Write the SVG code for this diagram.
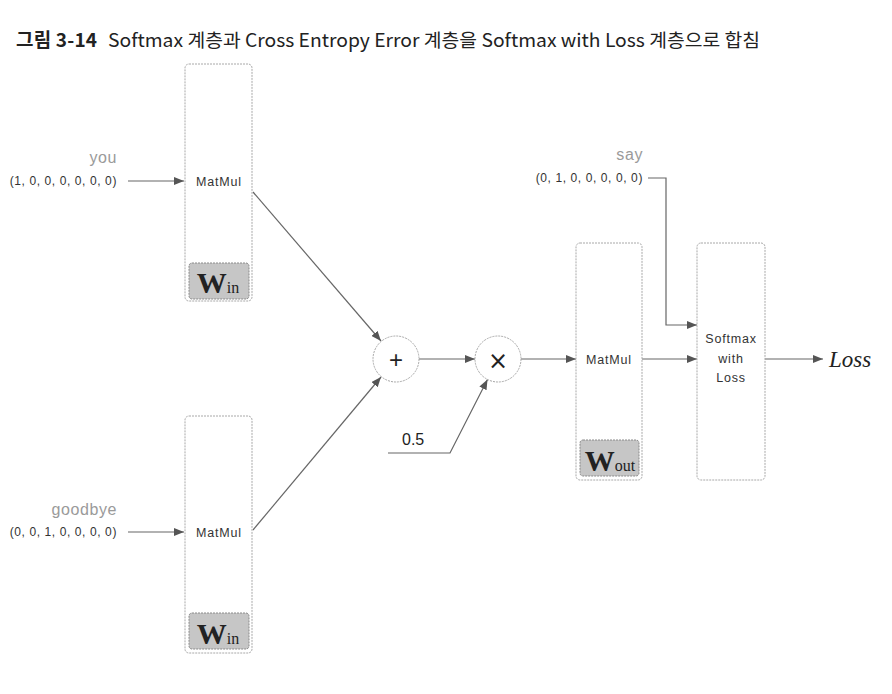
<svg xmlns="http://www.w3.org/2000/svg" width="892" height="694" viewBox="0 0 892 694">
<style>
.box{fill:#fff;stroke:#a8a8a8;stroke-width:1;stroke-dasharray:2,1}
.wbox{fill:#c6c6c6;stroke:#8a8a8a;stroke-width:1;stroke-dasharray:2,1}
.circ{fill:#fff;stroke:#a8a8a8;stroke-width:1;stroke-dasharray:2,1}
.lbl{font-family:"Liberation Sans",Arial,sans-serif;font-size:12.5px;fill:#333;letter-spacing:0.8px}
.vec{font-family:"Liberation Sans",Arial,sans-serif;font-size:12px;fill:#333;letter-spacing:0.6px}
.word{font-family:"Liberation Sans",Arial,sans-serif;font-size:16px;fill:#9a9a9a;letter-spacing:0.6px}
.W{font-family:"Liberation Serif","Times New Roman",serif;font-weight:bold;font-size:30px;fill:#222}
.sub{font-family:"Liberation Serif","Times New Roman",serif;font-size:16px;fill:#222}
.conn{fill:none;stroke:#666;stroke-width:1.2}
.op{font-family:"Liberation Sans",Arial,sans-serif;font-size:24px;fill:#222}
</style>
<defs>
<marker id="ah" viewBox="0 0 10 8" refX="10" refY="4" markerWidth="10" markerHeight="8" markerUnits="userSpaceOnUse" orient="auto">
<path d="M0,0 L10,4 L0,8 z" fill="#555"/>
</marker>
</defs>
<rect width="892" height="694" fill="#fff"/>
<g id="title">
<text x="16" y="47" font-family="'Noto Sans CJK KR','Liberation Sans',sans-serif" font-size="19" font-weight="bold" fill="#222" textLength="81" lengthAdjust="spacing">그림 3-14</text>
<text x="108" y="47" font-family="'Noto Sans CJK KR','Liberation Sans',sans-serif" font-size="18.5" fill="#222" textLength="652" lengthAdjust="spacingAndGlyphs">Softmax 계층과 Cross Entropy Error 계층을 Softmax with Loss 계층으로 합침</text>
</g>
<g id="connectors">
<path class="conn" d="M128,181 H184" marker-end="url(#ah)"/>
<path class="conn" d="M128,532 H184" marker-end="url(#ah)"/>
<path class="conn" d="M253,192 L381,341" marker-end="url(#ah)"/>
<path class="conn" d="M253,530 L381,377" marker-end="url(#ah)"/>
<path class="conn" d="M419,359 H475" marker-end="url(#ah)"/>
<path class="conn" d="M388,453 H450 L487.5,379.5" marker-end="url(#ah)"/>
<path class="conn" d="M521,359 H576" marker-end="url(#ah)"/>
<path class="conn" d="M642,359 H697" marker-end="url(#ah)"/>
<path class="conn" d="M648,178 H666 V325 H697" marker-end="url(#ah)"/>
<path class="conn" d="M765,359 H823" marker-end="url(#ah)"/>
</g>
<g id="input-you">
<text class="word" x="117" y="163" text-anchor="end">you</text>
<text class="vec" x="117" y="185" text-anchor="end">(1, 0, 0, 0, 0, 0, 0)</text>
</g>
<g id="input-goodbye">
<text class="word" x="117" y="515" text-anchor="end">goodbye</text>
<text class="vec" x="117" y="536" text-anchor="end">(0, 0, 1, 0, 0, 0, 0)</text>
</g>
<g id="matmul-in1">
<rect class="box" x="185" y="64" width="67" height="237" rx="4"/>
<text class="lbl" x="219" y="186" text-anchor="middle">MatMul</text>
<rect class="wbox" x="189" y="263" width="60" height="36" rx="3"/>
<text x="218" y="293" text-anchor="middle"><tspan class="W">W</tspan><tspan class="sub">in</tspan></text>
</g>
<g id="matmul-in2">
<rect class="box" x="185" y="416" width="67" height="237" rx="4"/>
<text class="lbl" x="219" y="537" text-anchor="middle">MatMul</text>
<rect class="wbox" x="189" y="613" width="60" height="36" rx="3"/>
<text x="218" y="644" text-anchor="middle"><tspan class="W">W</tspan><tspan class="sub">in</tspan></text>
</g>
<g id="add">
<circle class="circ" cx="396" cy="359" r="23"/>
<text class="op" x="396" y="367.5" text-anchor="middle">+</text>
</g>
<g id="mul">
<circle class="circ" cx="498" cy="359" r="23"/>
<text x="498" y="368.5" text-anchor="middle" font-family="'DejaVu Sans',sans-serif" font-size="24" fill="#222">×</text>
</g>
<g id="half">
<text x="402" y="445" font-family="'Liberation Sans',Arial,sans-serif" font-size="16" fill="#222">0.5</text>
</g>
<g id="matmul-out">
<rect class="box" x="576" y="243" width="66" height="237" rx="4"/>
<text class="lbl" x="609" y="364" text-anchor="middle">MatMul</text>
<rect class="wbox" x="580" y="440" width="59" height="36" rx="3"/>
<text x="610" y="471" text-anchor="middle"><tspan class="W">W</tspan><tspan class="sub">out</tspan></text>
</g>
<g id="input-say">
<text class="word" x="643" y="160" text-anchor="end">say</text>
<text class="vec" x="643" y="182" text-anchor="end">(0, 1, 0, 0, 0, 0, 0)</text>
</g>
<g id="softmax-loss">
<rect class="box" x="697" y="243" width="68" height="237" rx="4"/>
<text class="lbl" x="731" y="343" text-anchor="middle" letter-spacing="0.4">Softmax</text>
<text class="lbl" x="731" y="363" text-anchor="middle" letter-spacing="0.4">with</text>
<text class="lbl" x="731" y="382" text-anchor="middle" letter-spacing="0.4">Loss</text>
</g>
<g id="loss">
<text x="829" y="367" font-family="'Liberation Serif','Times New Roman',serif" font-style="italic" font-size="23" fill="#222">Loss</text>
</g>
</svg>
